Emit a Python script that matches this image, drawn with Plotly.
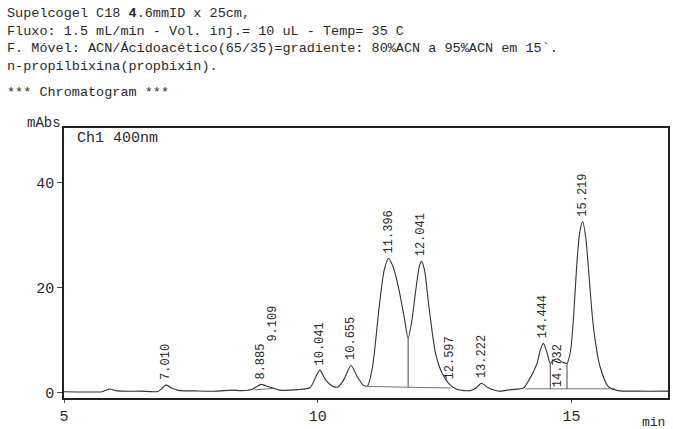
import numpy as np
import plotly.graph_objects as go

# Chromatogram trace (retention time in min, absorbance in mAbs)
time_min = [5.00, 5.40, 5.75, 5.90, 6.05, 6.50, 6.85, 6.93, 7.010, 7.12, 7.25, 7.60,
            8.00, 8.30, 8.50, 8.70, 8.80, 8.885, 8.98, 9.109, 9.25, 9.60, 9.85, 9.95,
            10.041, 10.15, 10.30, 10.40, 10.52, 10.655, 10.78, 10.90, 10.98, 11.08,
            11.21, 11.31, 11.396, 11.50, 11.60, 11.70, 11.78, 11.85, 11.93, 12.00,
            12.041, 12.10, 12.19, 12.32, 12.45, 12.597, 12.75, 13.00, 13.12, 13.222,
            13.35, 13.57, 13.80, 14.05, 14.16, 14.32, 14.38, 14.444, 14.52, 14.58,
            14.65, 14.732, 14.82, 14.91, 14.98, 15.04, 15.10, 15.16, 15.219, 15.28,
            15.33, 15.43, 15.56, 15.73, 15.92, 16.30, 16.90]
absorbance = [0.20, 0.15, 0.20, 0.70, 0.35, 0.30, 0.25, 0.80, 1.50, 0.90, 0.45, 0.35,
              0.30, 0.50, 0.40, 0.60, 1.20, 1.60, 1.30, 0.90, 0.50, 0.60, 1.00, 2.80,
              4.30, 2.50, 1.20, 1.10, 2.60, 5.20, 3.00, 1.40, 1.30, 5.00,
              16.4, 23.4, 25.6, 23.5, 19.6, 14.5, 10.4, 13.5, 19.5, 24.0,
              25.0, 23.5, 16.4, 7.50, 3.70, 1.60, 0.60, 0.40, 0.90, 1.80,
              1.00, 0.30, 0.60, 0.90, 2.40, 5.60, 8.00, 9.40, 7.50, 5.60,
              6.30, 6.40, 5.80, 5.60, 8.00, 14.5, 24.0, 30.5, 32.6, 29.5,
              24.0, 12.6, 5.00, 1.10, 0.40, 0.30, 0.30]

# Integrated peaks (retention time labels)
peak_rt = [7.010, 8.885, 9.109, 10.041, 10.655, 11.396, 12.041, 12.597,
           13.222, 14.444, 14.732, 15.219]
peak_label_on_baseline = [False, False, False, False, False, False, False, False,
                          False, False, True, False]
peak_label_lift_px = [3, 3, 44, 3, 3, 3, 3, 3, 3, 3, 0, 3]

# Integration baselines and drop lines
baseline_segments = [([8.75, 9.15], [0.55, 0.85]),
                     ([10.98, 12.62], [1.20, 0.90]),
                     ([14.09, 15.86], [0.75, 0.75])]
drop_times = [11.78, 14.58, 14.91]

MONO = "Liberation Mono, Courier New, monospace"
INK = "#2a2a2a"

fig = go.Figure()

for xs, ys in baseline_segments:
    fig.add_trace(go.Scatter(x=xs, y=ys, mode="lines",
                             line=dict(color="#8a6a6a", width=1),
                             hoverinfo="skip", showlegend=False))

def baseline_at(t):
    for xs, ys in baseline_segments:
        if xs[0] <= t <= xs[1]:
            return float(np.interp(t, xs, ys))
    return 0.3

for t in drop_times:
    top = float(np.interp(t, time_min, absorbance))
    fig.add_trace(go.Scatter(x=[t, t], y=[baseline_at(t), top], mode="lines",
                             line=dict(color="#444", width=1),
                             hoverinfo="skip", showlegend=False))

fig.add_trace(go.Scatter(x=time_min, y=absorbance, mode="lines",
                         line=dict(color="#333", width=1.1, shape="spline",
                                   smoothing=0.7),
                         hoverinfo="skip", showlegend=False))

for rt, on_base, lift in zip(peak_rt, peak_label_on_baseline, peak_label_lift_px):
    y0 = baseline_at(rt) if on_base else float(np.interp(rt, time_min, absorbance))
    fig.add_annotation(x=rt, y=y0, xref="x", yref="y", text=f"{rt:.3f}",
                       textangle=-90, showarrow=False, xanchor="center",
                       yanchor="bottom", yshift=lift,
                       font=dict(family=MONO, size=12, color=INK))

# Header block
header_lines = [
    "Supelcogel C18 <b>4</b>.6mmID x 25cm,",
    "Fluxo: 1.5 mL/min - Vol. inj.= 10 uL - Temp= 35 C",
    "F. Móvel: ACN/Ácidoacético(65/35)=gradiente: 80%ACN a 95%ACN em 15`.",
    "n-propilbixina(propbixin).",
]
plot_h = 429 - 128 - 31
def paper_y(py):
    return (429 - 31 - py) / plot_h
def paper_x(px):
    return (px - 64) / (673 - 64 - 3)

fig.add_annotation(x=paper_x(5), y=paper_y(4), xref="paper", yref="paper",
                   text="<br>".join(header_lines), showarrow=False, xanchor="left",
                   yanchor="top", align="left",
                   font=dict(family=MONO, size=13.5, color=INK))
fig.add_annotation(x=paper_x(5), y=paper_y(92), xref="paper", yref="paper",
                   text="*** Chromatogram ***", showarrow=False, xanchor="left",
                   yanchor="middle", font=dict(family=MONO, size=13.5, color=INK))
fig.add_annotation(x=paper_x(63), y=paper_y(123), xref="paper", yref="paper",
                   text="mAbs", showarrow=False, xanchor="right", yanchor="middle",
                   font=dict(family=MONO, size=14, color=INK))
fig.add_annotation(x=paper_x(75), y=paper_y(138), xref="paper", yref="paper",
                   text="Ch1 400nm", showarrow=False, xanchor="left", yanchor="middle",
                   font=dict(family=MONO, size=15, color=INK))
fig.add_annotation(x=paper_x(669), y=paper_y(422), xref="paper", yref="paper",
                   text="min", showarrow=False, xanchor="right", yanchor="middle",
                   font=dict(family=MONO, size=13, color=INK))

fig.update_layout(
    width=673, height=429, autosize=False,
    margin=dict(l=64, r=3, t=128, b=31),
    paper_bgcolor="white", plot_bgcolor="white",
    font=dict(family=MONO, size=14, color=INK),
    xaxis=dict(range=[5, 16.9], tickvals=[5, 10, 15], ticktext=["5", "10", "15"],
               showgrid=False, zeroline=False, showline=True, mirror=True,
               linecolor="#222", linewidth=2, ticks="outside", ticklen=3,
               tickcolor="#555", tickfont=dict(family=MONO, size=15, color=INK)),
    yaxis=dict(range=[-1.0, 50.4], tickvals=[0, 20, 40], showgrid=False,
               zeroline=False, showline=True, mirror=True, linecolor="#222",
               linewidth=1.5, ticks="outside", ticklen=5, tickcolor="#444",
               tickfont=dict(family=MONO, size=15, color=INK)),
)

fig.write_html("out.html")
